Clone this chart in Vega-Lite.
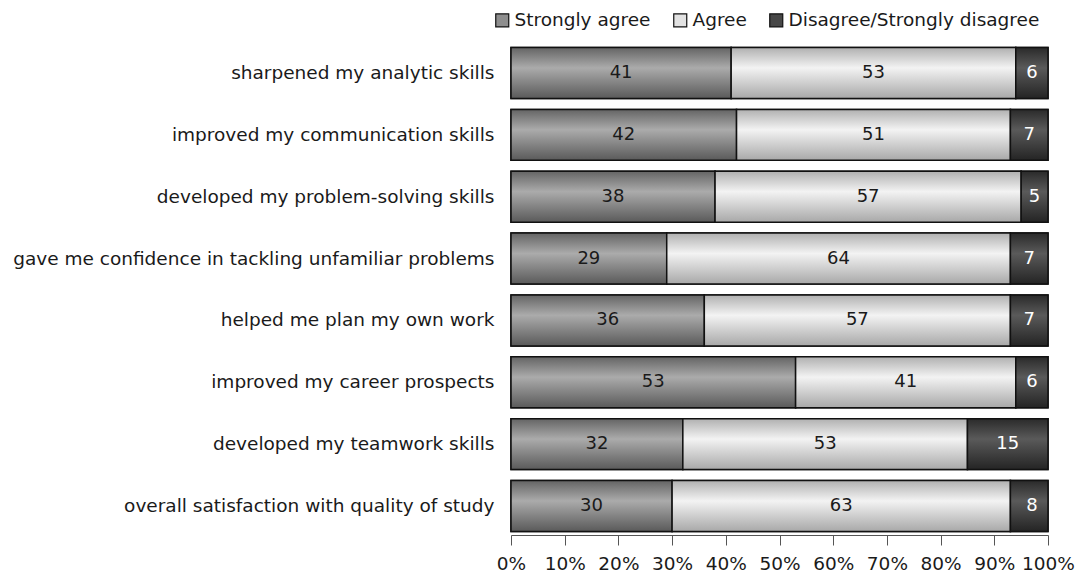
{
  "$schema": "https://vega.github.io/schema/vega-lite/v6.json",
  "width": 537,
  "height": 491,
  "padding": {"left": 12, "top": 11, "right": 10, "bottom": 0},
  "background": "white",
  "config": {
    "font": "DejaVu Sans",
    "view": {"stroke": null},
    "axis": {"labelFont": "DejaVu Sans", "labelColor": "#1a1a1a", "labelFontSize": 18.5}
  },
  "data": {
    "values": [
      {"q": "sharpened my analytic skills", "cat": "Strongly agree", "k": 1, "v": 41},
      {"q": "sharpened my analytic skills", "cat": "Agree", "k": 2, "v": 53},
      {"q": "sharpened my analytic skills", "cat": "Disagree/Strongly disagree", "k": 3, "v": 6},
      {"q": "improved my communication skills", "cat": "Strongly agree", "k": 1, "v": 42},
      {"q": "improved my communication skills", "cat": "Agree", "k": 2, "v": 51},
      {"q": "improved my communication skills", "cat": "Disagree/Strongly disagree", "k": 3, "v": 7},
      {"q": "developed my problem-solving skills", "cat": "Strongly agree", "k": 1, "v": 38},
      {"q": "developed my problem-solving skills", "cat": "Agree", "k": 2, "v": 57},
      {"q": "developed my problem-solving skills", "cat": "Disagree/Strongly disagree", "k": 3, "v": 5},
      {"q": "gave me confidence in tackling unfamiliar problems", "cat": "Strongly agree", "k": 1, "v": 29},
      {"q": "gave me confidence in tackling unfamiliar problems", "cat": "Agree", "k": 2, "v": 64},
      {"q": "gave me confidence in tackling unfamiliar problems", "cat": "Disagree/Strongly disagree", "k": 3, "v": 7},
      {"q": "helped me plan my own work", "cat": "Strongly agree", "k": 1, "v": 36},
      {"q": "helped me plan my own work", "cat": "Agree", "k": 2, "v": 57},
      {"q": "helped me plan my own work", "cat": "Disagree/Strongly disagree", "k": 3, "v": 7},
      {"q": "improved my career prospects", "cat": "Strongly agree", "k": 1, "v": 53},
      {"q": "improved my career prospects", "cat": "Agree", "k": 2, "v": 41},
      {"q": "improved my career prospects", "cat": "Disagree/Strongly disagree", "k": 3, "v": 6},
      {"q": "developed my teamwork skills", "cat": "Strongly agree", "k": 1, "v": 32},
      {"q": "developed my teamwork skills", "cat": "Agree", "k": 2, "v": 53},
      {"q": "developed my teamwork skills", "cat": "Disagree/Strongly disagree", "k": 3, "v": 15},
      {"q": "overall satisfaction with quality of study", "cat": "Strongly agree", "k": 1, "v": 30},
      {"q": "overall satisfaction with quality of study", "cat": "Agree", "k": 2, "v": 63},
      {"q": "overall satisfaction with quality of study", "cat": "Disagree/Strongly disagree", "k": 3, "v": 8}
    ]
  },
  "encoding": {
    "y": {
      "field": "q", "type": "nominal", "sort": null, "title": null,
      "scale": {"paddingInner": 0.176, "paddingOuter": 0.057},
      "axis": {"ticks": false, "domain": false, "labelPadding": 17, "labelLimit": 700}
    }
  },
  "layer": [
    {
      "mark": {"type": "bar", "stroke": "#111", "strokeWidth": 1.5},
      "encoding": {
        "x": {
          "field": "v", "type": "quantitative", "stack": "zero", "title": null,
          "scale": {"domain": [0, 100], "clamp": true},
          "axis": {
            "values": [0, 10, 20, 30, 40, 50, 60, 70, 80, 90, 100],
            "labelExpr": "datum.value + '%'",
            "grid": false, "domainColor": "#555", "tickColor": "#555",
            "tickSize": 10, "labelPadding": 9, "labelFlush": false
          }
        },
        "color": {
          "field": "cat", "type": "nominal", "title": null,
          "scale": {
            "domain": ["Strongly agree", "Agree", "Disagree/Strongly disagree"],
            "range": ["#8e8e8e", "#e2e2e2", "#474747"]
          },
          "legend": {
            "orient": "none", "legendX": -18, "legendY": -33, "direction": "horizontal",
            "symbolType": "square", "symbolSize": 169, "symbolStrokeColor": "#111", "symbolStrokeWidth": 1.2,
            "labelFontSize": 18.5, "labelFont": "DejaVu Sans", "labelColor": "#1a1a1a", "labelLimit": 400,
            "columnPadding": 20, "labelOffset": 3
          }
        },
        "order": {"field": "k", "type": "quantitative"}
      }
    },
    {
      "mark": {"type": "bar", "stroke": "#111", "strokeWidth": 1.5},
      "encoding": {
        "x": {"field": "v", "type": "quantitative", "stack": "zero"},
        "detail": {"field": "cat", "type": "nominal"},
        "order": {"field": "k", "type": "quantitative"},
        "fill": {
          "condition": [
            {"test": "datum.k === 1", "value": {"gradient": "linear", "x1": 0, "y1": 0, "x2": 0, "y2": 1, "stops": [{"offset": 0, "color": "#646464"}, {"offset": 0.4, "color": "#ababab"}, {"offset": 1, "color": "#5a5a5a"}]}},
            {"test": "datum.k === 2", "value": {"gradient": "linear", "x1": 0, "y1": 0, "x2": 0, "y2": 1, "stops": [{"offset": 0, "color": "#b0b0b0"}, {"offset": 0.4, "color": "#f3f3f3"}, {"offset": 1, "color": "#a8a8a8"}]}}
          ],
          "value": {"gradient": "linear", "x1": 0, "y1": 0, "x2": 0, "y2": 1, "stops": [{"offset": 0, "color": "#2a2a2a"}, {"offset": 0.4, "color": "#5a5a5a"}, {"offset": 1, "color": "#242424"}]}
        }
      }
    },
    {
      "mark": {"type": "text", "fontSize": 18, "baseline": "middle", "align": "center"},
      "encoding": {
        "x": {"field": "v", "type": "quantitative", "stack": "zero", "bandPosition": 0.5},
        "text": {"field": "v", "type": "quantitative"},
        "detail": {"field": "cat", "type": "nominal"},
        "order": {"field": "k", "type": "quantitative"},
        "color": {
          "condition": {"test": "datum.k === 3", "value": "#ffffff"},
          "value": "#1a1a1a"
        }
      }
    }
  ]
}
